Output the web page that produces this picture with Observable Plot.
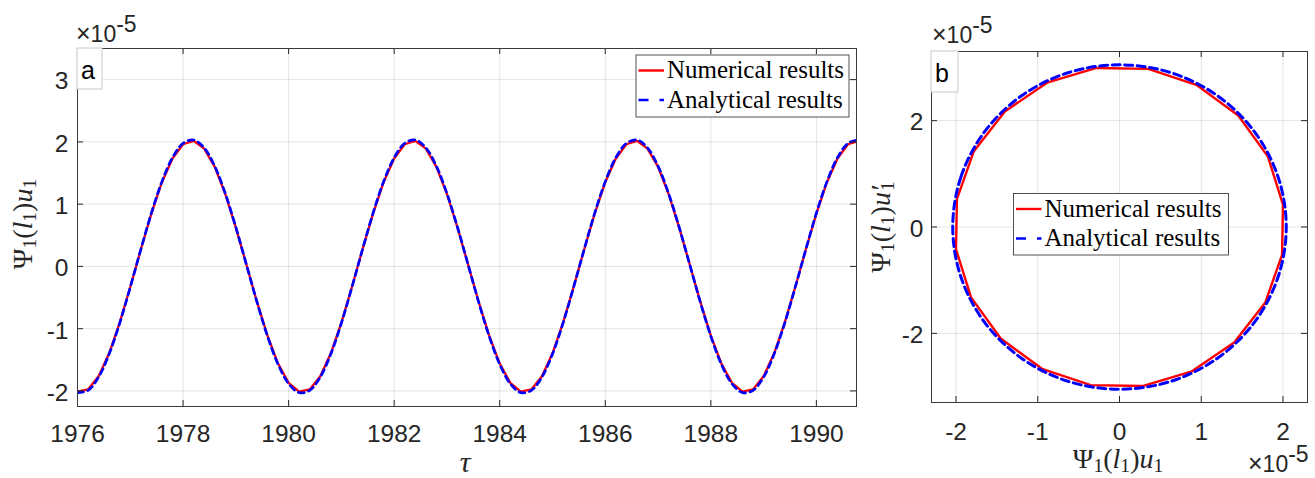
<!DOCTYPE html>
<html>
<head>
<meta charset="utf-8">
<script src="https://cdn.jsdelivr.net/npm/d3@7"></script>
<script src="https://cdn.jsdelivr.net/npm/@observablehq/plot@0.6"></script>
<style>
  body { margin: 0; background: #fff; }
  #wrap { position: relative; width: 1315px; height: 478px; overflow: hidden; background: #fff; }
  #pa { position: absolute; left: 0; top: 0; }
  #pb { position: absolute; left: 860px; top: 0; }
</style>
</head>
<body>
<div id="wrap"><div id="pa"></div><div id="pb"></div></div>
<script>
// ---------- data (values in units of 1e-5) ----------
const tau = [1976,1976.2,1976.4,1976.6,1976.8,1977,1977.2,1977.4,1977.6,1977.8,
  1978,1978.2,1978.4,1978.6,1978.8,1979,1979.2,1979.4,1979.6,1979.8,
  1980,1980.2,1980.4,1980.6,1980.8,1981,1981.2,1981.4,1981.6,1981.8,
  1982,1982.2,1982.4,1982.6,1982.8,1983,1983.2,1983.4,1983.6,1983.8,
  1984,1984.2,1984.4,1984.6,1984.8,1985,1985.2,1985.4,1985.6,1985.8,
  1986,1986.2,1986.4,1986.6,1986.8,1987,1987.2,1987.4,1987.6,1987.8,
  1988,1988.2,1988.4,1988.6,1988.8,1989,1989.2,1989.4,1989.6,1989.8,
  1990,1990.2,1990.4,1990.6,1990.8];

const numericalU = [
  -2.012,-1.976,-1.764,-1.396,-0.904,-0.331,0.271,0.849,1.352,1.734,1.962,2.016,1.891,1.598,1.163,0.624,0.030,-0.567,-1.113,-1.560,-1.869,
  -2.012,-1.976,-1.764,-1.396,-0.904,-0.331,0.271,0.849,1.352,1.734,1.962,2.016,1.891,1.598,1.163,0.624,0.030,-0.567,-1.113,-1.560,-1.869,
  -2.012,-1.976,-1.764,-1.396,-0.904,-0.331,0.271,0.849,1.352,1.734,1.962,2.016,1.891,1.598,1.163,0.624,0.030,-0.567,-1.113,-1.560,-1.869,
  -2.012,-1.976,-1.764,-1.396,-0.904,-0.331,0.271,0.849,1.352,1.734,1.962,2.016];

const analyticalU = [
  -2.027,-1.990,-1.777,-1.406,-0.910,-0.333,0.273,0.856,1.362,1.747,1.977,2.031,1.905,1.610,1.172,0.629,0.031,-0.571,-1.121,-1.572,-1.883,
  -2.027,-1.990,-1.777,-1.406,-0.910,-0.333,0.273,0.856,1.362,1.747,1.977,2.031,1.905,1.610,1.172,0.629,0.031,-0.571,-1.121,-1.572,-1.883,
  -2.027,-1.990,-1.777,-1.406,-0.910,-0.333,0.273,0.856,1.362,1.747,1.977,2.031,1.905,1.610,1.172,0.629,0.031,-0.571,-1.121,-1.572,-1.883,
  -2.027,-1.990,-1.777,-1.406,-0.910,-0.333,0.273,0.856,1.362,1.747,1.977,2.031];

const numPhaseX = [-1.989,-1.784,-1.403,-0.886,-0.281,0.351,0.948,1.453,1.816,2.000,1.989,1.784,1.403,0.886,0.281,-0.351,-0.948,-1.453,-1.816,-2.000,-1.989];
const numPhaseY = [0.524,1.418,2.172,2.714,2.991,2.974,2.666,2.098,1.324,0.420,-0.524,-1.418,-2.172,-2.714,-2.991,-2.974,-2.666,-2.098,-1.324,-0.420,0.524];
const anaPhaseX = [-2.040,-1.940,-1.650,-1.199,-0.630,0,0.630,1.199,1.650,1.940,2.040,1.940,1.650,1.199,0.630,0,-0.630,-1.199,-1.650,-1.940];
const anaPhaseY = [0,0.942,1.793,2.467,2.901,3.050,2.901,2.467,1.793,0.942,0,-0.942,-1.793,-2.467,-2.901,-3.050,-2.901,-2.467,-1.793,-0.942];

const xTicksA = [1976,1978,1980,1982,1984,1986,1988,1990];
const yTicksA = [-2,-1,0,1,2,3];
const xTicksB = [-2,-1,0,1,2];
const yTicksB = [-2,0,2];
const seriesNames = ["Numerical results", "Analytical results"];
const seriesColors = ["#ff0000", "#0000ff"];

// ---------- helpers ----------
const AX = "#262626";
const SERIF = "'Liberation Serif', 'Times New Roman', serif";
const SANS = "'Liberation Sans', Arial, Helvetica, sans-serif";

function mathText(sel, x, y, rot, size, parts) {
  const t = sel.append("text")
    .attr("transform", `translate(${x},${y}) rotate(${rot})`)
    .attr("text-anchor", "middle")
    .attr("font-family", SERIF)
    .attr("font-size", size)
    .attr("fill", AX);
  let shift = 0;
  for (const p of parts) {
    const s = t.append("tspan").text(p.t);
    const target = p.sub ? size * 0.16 : 0;
    if (target - shift !== 0) s.attr("dy", target - shift);
    shift = target;
    if (p.sub) s.attr("font-size", size * 0.7);
    if (p.it) s.attr("font-style", "italic");
    if (p.dx) s.attr("dx", p.dx);
  }
}
function expo(sel, x, y) {
  const t = sel.append("text").attr("x", x).attr("y", y).attr("text-anchor", "start")
    .attr("font-family", SANS).attr("font-size", 23).attr("fill", AX);
  t.append("tspan").attr("font-size", 25).text("×");
  t.append("tspan").text("10");
  t.append("tspan").attr("dy", -10).text("-5");
}
function legend(sel, x, y, w, h, rows) {
  const g = sel.append("g").attr("text-anchor", "start");
  g.append("rect").attr("x", x).attr("y", y).attr("width", w).attr("height", h)
    .attr("fill", "#fff").attr("stroke", AX).attr("stroke-width", 0.8);
  rows.forEach((r, i) => {
    const ly = y + 15.5 + i * 29.5;
    g.append("line").attr("x1", x + 2.5).attr("x2", x + 28).attr("y1", ly).attr("y2", ly)
      .attr("stroke", seriesColors[i]).attr("stroke-width", 2.4)
      .attr("stroke-dasharray", i === 1 ? "10,11" : null);
    g.append("text").attr("x", x + 31).attr("y", ly + 7.5)
      .attr("font-family", SERIF).attr("font-size", 25).attr("fill", "#000").text(r);
  });
}
function panelTag(sel, x, y, w, h, letter) {
  sel.append("rect").attr("x", x).attr("y", y).attr("width", w).attr("height", h)
    .attr("fill", "#fff").attr("stroke", "#c8c8c8").attr("stroke-width", 1);
  sel.append("text").attr("x", x + 4).attr("y", y + 31).attr("text-anchor", "start")
    .attr("font-family", SANS).attr("font-size", 25).attr("fill", "#000").text(letter);
}

// ---------- panel a ----------
const WA = 870, HA = 478, mLa = 77, mRa = 14, mTa = 48, mBa = 72;
const fwA = WA - mLa - mRa, fhA = HA - mTa - mBa;
const numRows = tau.map((t, i) => ({t, v: numericalU[i]}));
const anaRows = tau.map((t, i) => ({t, v: analyticalU[i]}));

const plotA = Plot.plot({
  width: WA, height: HA,
  marginLeft: mLa, marginRight: mRa, marginTop: mTa, marginBottom: mBa,
  style: {fontFamily: SANS, fontSize: "24.5px", color: AX, background: "transparent"},
  x: {domain: [1976, 1990.76]},
  y: {domain: [-2.25, 3.5]},
  marks: [
    Plot.gridX(xTicksA, {stroke: AX, strokeOpacity: 0.12}),
    Plot.gridY(yTicksA, {stroke: AX, strokeOpacity: 0.12}),
    Plot.line(numRows, {x: "t", y: "v", stroke: seriesColors[0], strokeWidth: 2.3, clip: true}),
    Plot.line(anaRows, {x: "t", y: "v", stroke: seriesColors[1], strokeWidth: 2.7, strokeDasharray: "6,4.5", curve: "catmull-rom", clip: true}),
    Plot.tickX(xTicksA, {x: d => d, insetTop: fhA - 6, stroke: AX}),
    Plot.tickX(xTicksA, {x: d => d, insetBottom: fhA - 6, stroke: AX}),
    Plot.tickY(yTicksA, {y: d => d, insetRight: fwA - 6, stroke: AX}),
    Plot.tickY(yTicksA, {y: d => d, insetLeft: fwA - 6, stroke: AX}),
    Plot.frame({stroke: "#3a3a3a", strokeWidth: 1}),
    Plot.axisX(xTicksA, {tickSize: 0, tickPadding: 18, tickFormat: d => String(d), label: null}),
    Plot.axisY(yTicksA, {tickSize: 0, tickPadding: 9, tickFormat: d => String(d), label: null, dy: 2})
  ]
});
document.getElementById("pa").appendChild(plotA);
const sa = d3.select(plotA);
panelTag(sa, mLa, mTa, 25, 41, "a");
legend(sa, 636, 55, 213, 62, seriesNames);
expo(sa, 76, 42);
mathText(sa, 32, 224, -90, 28, [
  {t: "Ψ"}, {t: "1", sub: true}, {t: "("}, {t: "l", it: true}, {t: "1", sub: true},
  {t: ")"}, {t: "u", it: true}, {t: "1", sub: true}]);
mathText(sa, 465, 472, 0, 30, [{t: "τ", it: true}]);

// ---------- panel b ----------
const WB = 455, HB = 478, mLb = 71, mRb = 8, mTb = 51, mBb = 76;
const fwB = WB - mLb - mRb, fhB = HB - mTb - mBb;
const numLoop = numPhaseX.map((x, i) => ({x, y: numPhaseY[i]}));
const anaLoop = anaPhaseX.map((x, i) => ({x, y: anaPhaseY[i]}));

const plotB = Plot.plot({
  width: WB, height: HB,
  marginLeft: mLb, marginRight: mRb, marginTop: mTb, marginBottom: mBb,
  style: {fontFamily: SANS, fontSize: "24.5px", color: AX, background: "transparent"},
  x: {domain: [-2.3, 2.3]},
  y: {domain: [-3.3, 3.3]},
  marks: [
    Plot.gridX(xTicksB, {stroke: AX, strokeOpacity: 0.12}),
    Plot.gridY(yTicksB, {stroke: AX, strokeOpacity: 0.12}),
    Plot.line(numLoop, {x: "x", y: "y", stroke: seriesColors[0], strokeWidth: 2.4}),
    Plot.line(anaLoop, {x: "x", y: "y", stroke: seriesColors[1], strokeWidth: 3, strokeDasharray: "8,4.5", curve: "catmull-rom-closed"}),
    Plot.tickX(xTicksB, {x: d => d, insetTop: fhB - 6, stroke: AX}),
    Plot.tickX(xTicksB, {x: d => d, insetBottom: fhB - 6, stroke: AX}),
    Plot.tickY(yTicksB, {y: d => d, insetRight: fwB - 6, stroke: AX}),
    Plot.tickY(yTicksB, {y: d => d, insetLeft: fwB - 6, stroke: AX}),
    Plot.frame({stroke: "#3a3a3a", strokeWidth: 1}),
    Plot.axisX(xTicksB, {tickSize: 0, tickPadding: 20, tickFormat: d => String(d), label: null}),
    Plot.axisY(yTicksB, {tickSize: 0, tickPadding: 8, tickFormat: d => String(d), label: null, dy: 2})
  ]
});
document.getElementById("pb").appendChild(plotB);
const sb = d3.select(plotB);
panelTag(sb, mLb, mTb, 27, 41, "b");
legend(sb, 153.5, 193.5, 215, 61.5, seriesNames);
expo(sb, 72, 43);
expo(sb, 388, 472);
mathText(sb, 30, 227, -90, 28, [
  {t: "Ψ"}, {t: "1", sub: true}, {t: "("}, {t: "l", it: true}, {t: "1", sub: true},
  {t: ")"}, {t: "u′", it: true}, {t: "1", sub: true, dx: -5}]);
mathText(sb, 258, 468, 0, 28, [
  {t: "Ψ"}, {t: "1", sub: true}, {t: "("}, {t: "l", it: true}, {t: "1", sub: true},
  {t: ")"}, {t: "u", it: true}, {t: "1", sub: true}]);
</script>
</body>
</html>
